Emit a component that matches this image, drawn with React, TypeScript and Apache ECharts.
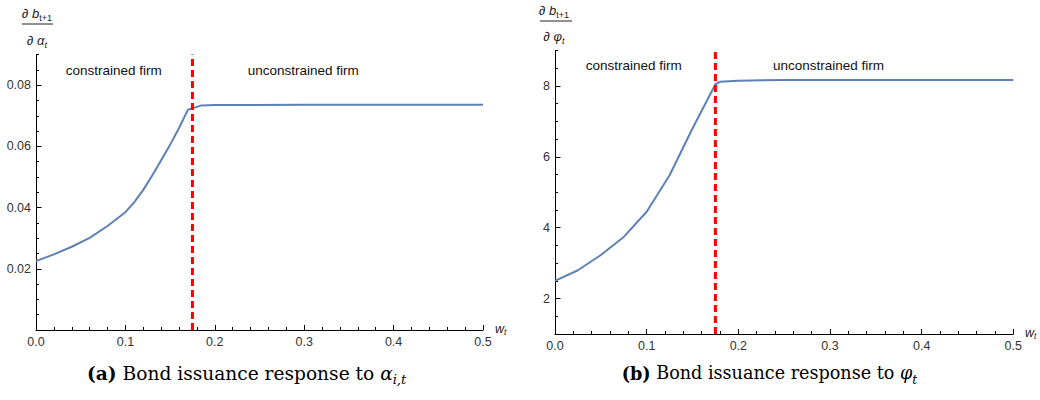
import React, { useEffect, useRef } from "react";
import * as echarts from "echarts";

// ---- data ----
const wLeft = [0, 0.02, 0.04, 0.06, 0.08, 0.1, 0.11, 0.12, 0.13, 0.14, 0.15, 0.16, 0.17, 0.185, 0.2, 0.3, 0.4, 0.5];
const bondAlpha = [0.0225, 0.0247, 0.0272, 0.0301, 0.034, 0.0385, 0.0418, 0.0458, 0.0505, 0.0555, 0.0605, 0.066, 0.072, 0.0734, 0.0735, 0.0736, 0.0736, 0.0736];

const wRight = [0, 0.025, 0.05, 0.075, 0.1, 0.125, 0.15, 0.175, 0.18, 0.2, 0.25, 0.3, 0.4, 0.5];
const bondPhi = [2.5, 2.8, 3.23, 3.74, 4.45, 5.48, 6.8, 8.05, 8.12, 8.15, 8.17, 8.17, 8.17, 8.17];

const thresholdW = 0.175;
const yRangeLeft = [0, 0.09];
const yRangeRight = [1, 9];
const yTicksLeft = [0.02, 0.04, 0.06, 0.08];
const yTicksRight = [2, 4, 6, 8];
const regionLabels = ["constrained firm", "unconstrained firm"];
const captions = ["Bond issuance response to ", "Bond issuance response to "];

const BLUE = "#5e81b5";
const SANS = "Liberation Sans, Arial, sans-serif";
const SERIF = "DejaVu Serif, serif";

function xAxisFor(gridIndex: number) {
  return {
    gridIndex,
    type: "value",
    position: "bottom",
    min: 0,
    max: 0.5,
    interval: 0.1,
    axisLine: { show: true, onZero: false, lineStyle: { color: "#000", width: 1 } },
    axisTick: { show: true, inside: true, length: 5, lineStyle: { color: "#000" } },
    minorTick: { show: true, splitNumber: 5, length: 3, lineStyle: { color: "#000" } },
    splitLine: { show: false },
    minorSplitLine: { show: false },
    axisLabel: {
      formatter: (v: number) => v.toFixed(1),
      color: "#333",
      fontSize: 12.5,
      fontFamily: SANS,
      margin: 5,
    },
  };
}

function yAxesFor(gridIndex: number, range: number[], minorStep: number, majorStep: number, majors: number[], digits: number) {
  return [
    {
      gridIndex,
      type: "value",
      position: "left",
      min: range[0],
      max: range[1],
      interval: minorStep,
      axisLine: { show: true, onZero: false, lineStyle: { color: "#000", width: 1 } },
      axisTick: { show: true, inside: true, length: 3, lineStyle: { color: "#000" } },
      axisLabel: { show: false },
      splitLine: { show: false },
    },
    {
      gridIndex,
      type: "value",
      position: "left",
      offset: 0,
      min: range[0],
      max: range[1],
      interval: majorStep,
      axisLine: { show: false, onZero: false },
      axisTick: { show: true, inside: true, length: 5.5, customValues: majors, lineStyle: { color: "#000" } },
      axisLabel: {
        customValues: majors,
        formatter: (v: number) => (majors.some((m) => Math.abs(m - v) < 1e-9) ? v.toFixed(digits) : ""),
        color: "#333",
        fontSize: 12.5,
        fontFamily: SANS,
        margin: 5,
      },
      splitLine: { show: false },
    },
  ];
}

function fracText(x: number, num: string, den: string, lineX1: number, lineX2: number, lineY: number, denY: number, numY: number) {
  const rich = {
    d: { fontFamily: SANS, fontSize: 13, lineHeight: 18, fill: "#222" },
    v: { fontFamily: SANS, fontStyle: "italic", fontSize: 13, lineHeight: 18, fill: "#222" },
    s: { fontFamily: SANS, fontSize: 9, lineHeight: 10, verticalAlign: "bottom", fill: "#222" },
    si: { fontFamily: SANS, fontStyle: "italic", fontSize: 9, lineHeight: 10, verticalAlign: "bottom", fill: "#222" },
  };
  return [
    {
      type: "text",
      x,
      y: numY,
      style: { text: num, rich, align: "center", verticalAlign: "middle", fontFamily: SANS, fontSize: 13 },
    },
    {
      type: "line",
      shape: { x1: lineX1, y1: lineY, x2: lineX2, y2: lineY },
      style: { stroke: "#222", lineWidth: 1 },
    },
    {
      type: "text",
      x,
      y: denY,
      style: { text: den, rich, align: "center", verticalAlign: "middle", fontFamily: SANS, fontSize: 13 },
    },
  ];
}

function captionText(x: number, y: number, size: number, tag: string, body: string, sym: string, sub: string) {
  return {
    type: "text",
    x,
    y,
    style: {
      text: `{b|${tag}} {r|${body}}{m|${sym}}{s|${sub}}`,
      align: "left",
      verticalAlign: "middle",
      fontFamily: SERIF,
      fontSize: size,
      fill: "#000",
      rich: {
        b: { fontFamily: SERIF, fontWeight: "bold", fontSize: size, lineHeight: 26 },
        r: { fontFamily: SERIF, fontSize: size, lineHeight: 26 },
        m: { fontFamily: SERIF, fontStyle: "italic", fontSize: size, lineHeight: 26 },
        s: { fontFamily: SERIF, fontStyle: "italic", fontSize: size * 0.7, lineHeight: 14, verticalAlign: "bottom" },
      },
    },
  };
}

function wLabel(x: number, y: number) {
  return {
    type: "text",
    x,
    y,
    style: {
      text: "{v|w}{s|t}",
      align: "left",
      verticalAlign: "middle",
      fontFamily: SANS,
      fontSize: 12.5,
      rich: {
        v: { fontFamily: SANS, fontStyle: "italic", fontSize: 12.5, lineHeight: 14, fill: "#222" },
        s: { fontFamily: SANS, fontStyle: "italic", fontSize: 8.5, lineHeight: 8, verticalAlign: "bottom", fill: "#222" },
      },
    },
  };
}

function plainText(x: number, y: number, text: string) {
  return {
    type: "text",
    x,
    y,
    style: { text, align: "left", verticalAlign: "middle", fontFamily: SANS, fontSize: 13.5, fill: "#111" },
  };
}

function thresholdSeries(xAxisIndex: number, yAxisIndex: number, range: number[]) {
  return {
    type: "line",
    xAxisIndex,
    yAxisIndex,
    data: [
      [thresholdW, range[0]],
      [thresholdW, range[1]],
    ],
    symbol: "none",
    silent: true,
    lineStyle: { color: "#ff0000", width: 3, type: [7, 4] },
    z: 3,
  };
}

export default function App() {
  const ref = useRef<HTMLDivElement>(null);

  useEffect(() => {
    if (!ref.current) return;
    const chart = echarts.init(ref.current, undefined, { renderer: "svg" });

    const option = {
      animation: false,
      backgroundColor: "#ffffff",
      grid: [
        { left: 36, top: 54.6, width: 447, height: 275.4 },
        { left: 555, top: 50.6, width: 458.3, height: 283.4 },
      ],
      xAxis: [xAxisFor(0), xAxisFor(1)],
      yAxis: [
        ...yAxesFor(0, yRangeLeft, 0.005, 0.02, yTicksLeft, 2),
        ...yAxesFor(1, yRangeRight, 0.5, 1, yTicksRight, 0),
      ],
      series: [
        {
          type: "line",
          xAxisIndex: 0,
          yAxisIndex: 0,
          data: wLeft.map((w, i) => [w, bondAlpha[i]]),
          symbol: "none",
          lineStyle: { color: BLUE, width: 2 },
          z: 2,
        },
        thresholdSeries(0, 0, yRangeLeft),
        {
          type: "line",
          xAxisIndex: 1,
          yAxisIndex: 2,
          data: wRight.map((w, i) => [w, bondPhi[i]]),
          symbol: "none",
          lineStyle: { color: BLUE, width: 2 },
          z: 2,
        },
        thresholdSeries(1, 2, yRangeRight),
      ],
      graphic: [
        ...fracText(37, "{d|∂ }{v|b}{s|t+1}", "{d|∂ }{v|α}{si|t}", 22, 53, 24, 40, 13),
        ...fracText(554, "{d|∂ }{v|b}{s|t+1}", "{d|∂ }{v|φ}{si|t}", 540, 572, 21, 36, 10),
        plainText(65.7, 70, regionLabels[0]),
        plainText(247.7, 70, regionLabels[1]),
        plainText(585.7, 65, regionLabels[0]),
        plainText(773, 65, regionLabels[1]),
        wLabel(495, 329),
        wLabel(1025, 333),
        captionText(87, 373, 18.6, "(a)", captions[0], "α", "i,t"),
        captionText(621.7, 373, 17.6, "(b)", captions[1], "φ", "t"),
      ],
    };

    chart.setOption(option as any);
    return () => chart.dispose();
  }, []);

  return (
    <div
      ref={ref}
      style={{ position: "absolute", left: 0, top: 0, width: 1040, height: 400, background: "#fff" }}
    />
  );
}
